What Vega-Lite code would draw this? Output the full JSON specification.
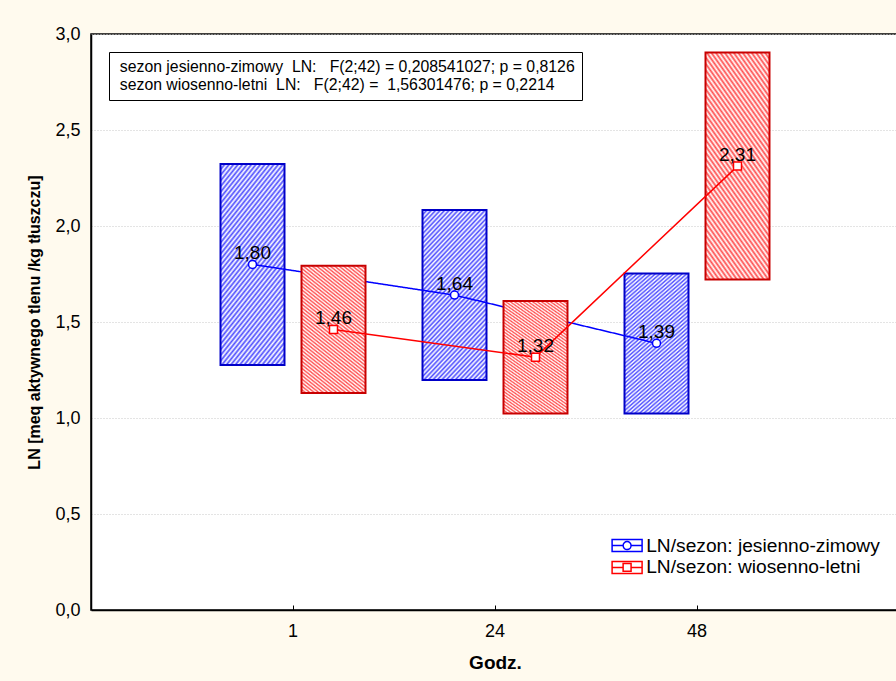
{
  "$schema": "https://vega.github.io/schema/vega-lite/v6.json",
  "width": 808,
  "height": 576,
  "autosize": {"type": "none"},
  "padding": {"left": 91, "top": 34, "right": 0, "bottom": 71},
  "background": "#fffaee",
  "config": {
    "font": "Liberation Sans",
    "view": {"fill": "white", "stroke": "black", "strokeWidth": 1.5},
    "locale": {"number": {"decimal": ",", "thousands": "\u00a0", "grouping": [3], "currency": ["", "\u00a0zł"]}},
    "axis": {"labelColor": "black", "titleColor": "black", "domainColor": "black", "labelFont": "Liberation Sans", "titleFont": "Liberation Sans"},
    "legend": {"labelFont": "Liberation Sans", "labelColor": "black"}
  },
  "data": {
    "values": [
      {"godz": "1", "sezon": "jesienno-zimowy", "mean": 1.80, "lo": 1.276, "hi": 2.323, "stat": "sezon jesienno-zimowy\u00a0 LN:\u00a0\u00a0 F(2;42) = 0,208541027; p = 0,8126"},
      {"godz": "24", "sezon": "jesienno-zimowy", "mean": 1.64, "lo": 1.198, "hi": 2.083, "stat": "sezon jesienno-zimowy\u00a0 LN:\u00a0\u00a0 F(2;42) = 0,208541027; p = 0,8126"},
      {"godz": "48", "sezon": "jesienno-zimowy", "mean": 1.389, "lo": 1.024, "hi": 1.753, "stat": "sezon jesienno-zimowy\u00a0 LN:\u00a0\u00a0 F(2;42) = 0,208541027; p = 0,8126"},
      {"godz": "1", "sezon": "wiosenno-letni", "mean": 1.461, "lo": 1.130, "hi": 1.793, "stat": "sezon wiosenno-letni\u00a0 LN:\u00a0\u00a0 F(2;42) =\u00a0 1,56301476; p = 0,2214"},
      {"godz": "24", "sezon": "wiosenno-letni", "mean": 1.317, "lo": 1.024, "hi": 1.609, "stat": "sezon wiosenno-letni\u00a0 LN:\u00a0\u00a0 F(2;42) =\u00a0 1,56301476; p = 0,2214"},
      {"godz": "48", "sezon": "wiosenno-letni", "mean": 2.312, "lo": 1.722, "hi": 2.903, "stat": "sezon wiosenno-letni\u00a0 LN:\u00a0\u00a0 F(2;42) =\u00a0 1,56301476; p = 0,2214"}
    ]
  },
  "encoding": {
    "x": {
      "field": "godz", "type": "nominal", "sort": null,
      "scale": {"domain": ["1", "24", "48"], "paddingInner": 0, "paddingOuter": 0.5},
      "axis": {"title": "Godz.", "labelAngle": 0, "labelFontSize": 18, "titleFontSize": 19, "titleFontWeight": "bold", "titlePadding": 13, "tickSize": -5, "tickColor": "black", "labelPadding": 17, "domainWidth": 1.5}
    },
    "xOffset": {
      "field": "sezon", "type": "nominal", "sort": null,
      "scale": {"domain": ["jesienno-zimowy", "wiosenno-letni"], "paddingInner": 0.21, "paddingOuter": 0.352}
    }
  },
  "layer": [
    {
      "transform": [{"filter": "datum.sezon === 'jesienno-zimowy'"}],
      "mark": {
        "type": "bar", "stroke": "#0000c8", "strokeWidth": 2,
        "fill": {"gradient": "linear", "x1": 0, "y1": 0, "x2": 0.483, "y2": 1.207, "stops": [
          {"offset": 0, "color": "#4d4dff"}, {"offset": 0.01, "color": "#fff"}, {"offset": 0.02, "color": "#4d4dff"}, {"offset": 0.03, "color": "#fff"}, {"offset": 0.04, "color": "#4d4dff"}, {"offset": 0.05, "color": "#fff"}, {"offset": 0.06, "color": "#4d4dff"}, {"offset": 0.07, "color": "#fff"}, {"offset": 0.08, "color": "#4d4dff"}, {"offset": 0.09, "color": "#fff"},
          {"offset": 0.10, "color": "#4d4dff"}, {"offset": 0.11, "color": "#fff"}, {"offset": 0.12, "color": "#4d4dff"}, {"offset": 0.13, "color": "#fff"}, {"offset": 0.14, "color": "#4d4dff"}, {"offset": 0.15, "color": "#fff"}, {"offset": 0.16, "color": "#4d4dff"}, {"offset": 0.17, "color": "#fff"}, {"offset": 0.18, "color": "#4d4dff"}, {"offset": 0.19, "color": "#fff"},
          {"offset": 0.20, "color": "#4d4dff"}, {"offset": 0.21, "color": "#fff"}, {"offset": 0.22, "color": "#4d4dff"}, {"offset": 0.23, "color": "#fff"}, {"offset": 0.24, "color": "#4d4dff"}, {"offset": 0.25, "color": "#fff"}, {"offset": 0.26, "color": "#4d4dff"}, {"offset": 0.27, "color": "#fff"}, {"offset": 0.28, "color": "#4d4dff"}, {"offset": 0.29, "color": "#fff"},
          {"offset": 0.30, "color": "#4d4dff"}, {"offset": 0.31, "color": "#fff"}, {"offset": 0.32, "color": "#4d4dff"}, {"offset": 0.33, "color": "#fff"}, {"offset": 0.34, "color": "#4d4dff"}, {"offset": 0.35, "color": "#fff"}, {"offset": 0.36, "color": "#4d4dff"}, {"offset": 0.37, "color": "#fff"}, {"offset": 0.38, "color": "#4d4dff"}, {"offset": 0.39, "color": "#fff"},
          {"offset": 0.40, "color": "#4d4dff"}, {"offset": 0.41, "color": "#fff"}, {"offset": 0.42, "color": "#4d4dff"}, {"offset": 0.43, "color": "#fff"}, {"offset": 0.44, "color": "#4d4dff"}, {"offset": 0.45, "color": "#fff"}, {"offset": 0.46, "color": "#4d4dff"}, {"offset": 0.47, "color": "#fff"}, {"offset": 0.48, "color": "#4d4dff"}, {"offset": 0.49, "color": "#fff"},
          {"offset": 0.50, "color": "#4d4dff"}, {"offset": 0.51, "color": "#fff"}, {"offset": 0.52, "color": "#4d4dff"}, {"offset": 0.53, "color": "#fff"}, {"offset": 0.54, "color": "#4d4dff"}, {"offset": 0.55, "color": "#fff"}, {"offset": 0.56, "color": "#4d4dff"}, {"offset": 0.57, "color": "#fff"}, {"offset": 0.58, "color": "#4d4dff"}, {"offset": 0.59, "color": "#fff"},
          {"offset": 0.60, "color": "#4d4dff"}, {"offset": 0.61, "color": "#fff"}, {"offset": 0.62, "color": "#4d4dff"}, {"offset": 0.63, "color": "#fff"}, {"offset": 0.64, "color": "#4d4dff"}, {"offset": 0.65, "color": "#fff"}, {"offset": 0.66, "color": "#4d4dff"}, {"offset": 0.67, "color": "#fff"}, {"offset": 0.68, "color": "#4d4dff"}, {"offset": 0.69, "color": "#fff"},
          {"offset": 0.70, "color": "#4d4dff"}, {"offset": 0.71, "color": "#fff"}, {"offset": 0.72, "color": "#4d4dff"}, {"offset": 0.73, "color": "#fff"}, {"offset": 0.74, "color": "#4d4dff"}, {"offset": 0.75, "color": "#fff"}, {"offset": 0.76, "color": "#4d4dff"}, {"offset": 0.77, "color": "#fff"}, {"offset": 0.78, "color": "#4d4dff"}, {"offset": 0.79, "color": "#fff"},
          {"offset": 0.80, "color": "#4d4dff"}, {"offset": 0.81, "color": "#fff"}, {"offset": 0.82, "color": "#4d4dff"}, {"offset": 0.83, "color": "#fff"}, {"offset": 0.84, "color": "#4d4dff"}, {"offset": 0.85, "color": "#fff"}, {"offset": 0.86, "color": "#4d4dff"}, {"offset": 0.87, "color": "#fff"}, {"offset": 0.88, "color": "#4d4dff"}, {"offset": 0.89, "color": "#fff"},
          {"offset": 0.90, "color": "#4d4dff"}, {"offset": 0.91, "color": "#fff"}, {"offset": 0.92, "color": "#4d4dff"}, {"offset": 0.93, "color": "#fff"}, {"offset": 0.94, "color": "#4d4dff"}, {"offset": 0.95, "color": "#fff"}, {"offset": 0.96, "color": "#4d4dff"}, {"offset": 0.97, "color": "#fff"}, {"offset": 0.98, "color": "#4d4dff"}, {"offset": 0.99, "color": "#fff"},
          {"offset": 1, "color": "#4d4dff"}
        ]}
      },
      "encoding": {
        "y": {
          "field": "lo", "type": "quantitative",
          "scale": {"domain": [0, 3], "nice": false, "zero": true},
          "axis": {"title": "LN [meq aktywnego tlenu /kg tłuszczu]", "titleFontSize": 16, "titleFontWeight": "bold", "titlePadding": 12, "labelFontSize": 18, "labelPadding": 11, "values": [0, 0.5, 1, 1.5, 2, 2.5, 3], "format": ".1f", "ticks": false, "grid": true, "gridDash": [1, 2], "gridColor": "#c8c8c8", "domainWidth": 1.5}
        },
        "y2": {"field": "hi"}
      }
    },
    {
      "transform": [{"filter": "datum.sezon === 'jesienno-zimowy'"}],
      "mark": {"type": "line", "stroke": "#0000ff", "strokeWidth": 1.5},
      "encoding": {
        "y": {"field": "mean", "type": "quantitative", "scale": {"domain": [0, 3], "nice": false}},
        "strokeDash": {
          "field": "stat", "type": "nominal", "sort": null,
          "scale": {"domain": ["sezon jesienno-zimowy\u00a0 LN:\u00a0\u00a0 F(2;42) = 0,208541027; p = 0,8126", "sezon wiosenno-letni\u00a0 LN:\u00a0\u00a0 F(2;42) =\u00a0 1,56301476; p = 0,2214"], "range": [[1, 0], [1, 0]]},
          "legend": {"title": null, "orient": "top-left", "offset": 18, "padding": 7, "strokeColor": "black", "fillColor": "white", "symbolSize": 0, "symbolOpacity": 0, "symbolStrokeWidth": 0, "labelOffset": -12, "labelFontSize": 15.8, "labelLimit": 800, "rowPadding": 1,
            "encode": {"legend": {"update": {"strokeWidth": {"value": 1.5}}}}}
        }
      }
    },
    {
      "transform": [{"filter": "datum.sezon === 'jesienno-zimowy'"}],
      "mark": {"type": "point", "shape": "circle", "filled": true, "fill": "white", "stroke": "#0000ff", "strokeWidth": 1.5, "size": 64, "opacity": 1},
      "encoding": {
        "y": {"field": "mean", "type": "quantitative", "scale": {"domain": [0, 3], "nice": false}}
      }
    },
    {
      "transform": [{"filter": "datum.sezon === 'wiosenno-letni'"}],
      "mark": {
        "type": "bar", "stroke": "#c80000", "strokeWidth": 2,
        "fill": {"gradient": "linear", "x1": 0, "y1": 1, "x2": 0.483, "y2": -0.207, "stops": [
          {"offset": 0, "color": "#ff4d4d"}, {"offset": 0.01, "color": "#fff"}, {"offset": 0.02, "color": "#ff4d4d"}, {"offset": 0.03, "color": "#fff"}, {"offset": 0.04, "color": "#ff4d4d"}, {"offset": 0.05, "color": "#fff"}, {"offset": 0.06, "color": "#ff4d4d"}, {"offset": 0.07, "color": "#fff"}, {"offset": 0.08, "color": "#ff4d4d"}, {"offset": 0.09, "color": "#fff"},
          {"offset": 0.10, "color": "#ff4d4d"}, {"offset": 0.11, "color": "#fff"}, {"offset": 0.12, "color": "#ff4d4d"}, {"offset": 0.13, "color": "#fff"}, {"offset": 0.14, "color": "#ff4d4d"}, {"offset": 0.15, "color": "#fff"}, {"offset": 0.16, "color": "#ff4d4d"}, {"offset": 0.17, "color": "#fff"}, {"offset": 0.18, "color": "#ff4d4d"}, {"offset": 0.19, "color": "#fff"},
          {"offset": 0.20, "color": "#ff4d4d"}, {"offset": 0.21, "color": "#fff"}, {"offset": 0.22, "color": "#ff4d4d"}, {"offset": 0.23, "color": "#fff"}, {"offset": 0.24, "color": "#ff4d4d"}, {"offset": 0.25, "color": "#fff"}, {"offset": 0.26, "color": "#ff4d4d"}, {"offset": 0.27, "color": "#fff"}, {"offset": 0.28, "color": "#ff4d4d"}, {"offset": 0.29, "color": "#fff"},
          {"offset": 0.30, "color": "#ff4d4d"}, {"offset": 0.31, "color": "#fff"}, {"offset": 0.32, "color": "#ff4d4d"}, {"offset": 0.33, "color": "#fff"}, {"offset": 0.34, "color": "#ff4d4d"}, {"offset": 0.35, "color": "#fff"}, {"offset": 0.36, "color": "#ff4d4d"}, {"offset": 0.37, "color": "#fff"}, {"offset": 0.38, "color": "#ff4d4d"}, {"offset": 0.39, "color": "#fff"},
          {"offset": 0.40, "color": "#ff4d4d"}, {"offset": 0.41, "color": "#fff"}, {"offset": 0.42, "color": "#ff4d4d"}, {"offset": 0.43, "color": "#fff"}, {"offset": 0.44, "color": "#ff4d4d"}, {"offset": 0.45, "color": "#fff"}, {"offset": 0.46, "color": "#ff4d4d"}, {"offset": 0.47, "color": "#fff"}, {"offset": 0.48, "color": "#ff4d4d"}, {"offset": 0.49, "color": "#fff"},
          {"offset": 0.50, "color": "#ff4d4d"}, {"offset": 0.51, "color": "#fff"}, {"offset": 0.52, "color": "#ff4d4d"}, {"offset": 0.53, "color": "#fff"}, {"offset": 0.54, "color": "#ff4d4d"}, {"offset": 0.55, "color": "#fff"}, {"offset": 0.56, "color": "#ff4d4d"}, {"offset": 0.57, "color": "#fff"}, {"offset": 0.58, "color": "#ff4d4d"}, {"offset": 0.59, "color": "#fff"},
          {"offset": 0.60, "color": "#ff4d4d"}, {"offset": 0.61, "color": "#fff"}, {"offset": 0.62, "color": "#ff4d4d"}, {"offset": 0.63, "color": "#fff"}, {"offset": 0.64, "color": "#ff4d4d"}, {"offset": 0.65, "color": "#fff"}, {"offset": 0.66, "color": "#ff4d4d"}, {"offset": 0.67, "color": "#fff"}, {"offset": 0.68, "color": "#ff4d4d"}, {"offset": 0.69, "color": "#fff"},
          {"offset": 0.70, "color": "#ff4d4d"}, {"offset": 0.71, "color": "#fff"}, {"offset": 0.72, "color": "#ff4d4d"}, {"offset": 0.73, "color": "#fff"}, {"offset": 0.74, "color": "#ff4d4d"}, {"offset": 0.75, "color": "#fff"}, {"offset": 0.76, "color": "#ff4d4d"}, {"offset": 0.77, "color": "#fff"}, {"offset": 0.78, "color": "#ff4d4d"}, {"offset": 0.79, "color": "#fff"},
          {"offset": 0.80, "color": "#ff4d4d"}, {"offset": 0.81, "color": "#fff"}, {"offset": 0.82, "color": "#ff4d4d"}, {"offset": 0.83, "color": "#fff"}, {"offset": 0.84, "color": "#ff4d4d"}, {"offset": 0.85, "color": "#fff"}, {"offset": 0.86, "color": "#ff4d4d"}, {"offset": 0.87, "color": "#fff"}, {"offset": 0.88, "color": "#ff4d4d"}, {"offset": 0.89, "color": "#fff"},
          {"offset": 0.90, "color": "#ff4d4d"}, {"offset": 0.91, "color": "#fff"}, {"offset": 0.92, "color": "#ff4d4d"}, {"offset": 0.93, "color": "#fff"}, {"offset": 0.94, "color": "#ff4d4d"}, {"offset": 0.95, "color": "#fff"}, {"offset": 0.96, "color": "#ff4d4d"}, {"offset": 0.97, "color": "#fff"}, {"offset": 0.98, "color": "#ff4d4d"}, {"offset": 0.99, "color": "#fff"},
          {"offset": 1, "color": "#ff4d4d"}
        ]}
      },
      "encoding": {
        "y": {"field": "lo", "type": "quantitative", "scale": {"domain": [0, 3], "nice": false}},
        "y2": {"field": "hi"}
      }
    },
    {
      "transform": [{"filter": "datum.sezon === 'wiosenno-letni'"}],
      "mark": {"type": "line", "stroke": "#ff0000", "strokeWidth": 1.5},
      "encoding": {
        "y": {"field": "mean", "type": "quantitative", "scale": {"domain": [0, 3], "nice": false}}
      }
    },
    {
      "transform": [{"filter": "datum.sezon === 'wiosenno-letni'"}],
      "mark": {"type": "point", "shape": "square", "filled": true, "fill": "white", "stroke": "#ff0000", "strokeWidth": 1.5, "size": 64, "opacity": 1},
      "encoding": {
        "y": {"field": "mean", "type": "quantitative", "scale": {"domain": [0, 3], "nice": false}}
      }
    },
    {
      "mark": {"type": "point", "filled": true, "opacity": 0, "strokeWidth": 1.5, "size": 225},
      "encoding": {
        "y": {"field": "mean", "type": "quantitative", "scale": {"domain": [0, 3], "nice": false}},
        "fill": {
          "field": "sezon", "type": "nominal", "sort": null,
          "scale": {"domain": ["jesienno-zimowy", "wiosenno-letni"], "range": ["#b4b4ff", "#ffb4b4"]},
          "legend": {"title": null, "orient": "none", "legendX": 519, "legendY": 502, "padding": 0, "symbolSize": 225, "symbolStrokeWidth": 1.5, "symbolOpacity": 1, "labelOffset": 17, "labelFontSize": 19.2, "labelLimit": 400, "rowPadding": 1.8, "labelExpr": "'LN/sezon: ' + datum.label"}
        },
        "stroke": {
          "field": "sezon", "type": "nominal", "sort": null,
          "scale": {"domain": ["jesienno-zimowy", "wiosenno-letni"], "range": ["#0000ff", "#ff0000"]}
        },
        "shape": {
          "field": "sezon", "type": "nominal", "sort": null,
          "scale": {"domain": ["jesienno-zimowy", "wiosenno-letni"], "range": [
            "M-1,-0.8H3V0.8H-1Z M0.47,0A0.53,0.53 0 1,0 1.53,0A0.53,0.53 0 1,0 0.47,0Z M-1,0H0.47 M1.53,0H3",
            "M-1,-0.8H3V0.8H-1Z M0.47,-0.53V0.53H1.53V-0.53Z M-1,0H0.47 M1.53,0H3"
          ]}
        }
      }
    },
    {
      "mark": {"type": "text", "fontSize": 19, "baseline": "middle", "dy": -11, "color": "black"},
      "encoding": {
        "y": {"field": "mean", "type": "quantitative", "scale": {"domain": [0, 3], "nice": false}},
        "text": {"field": "mean", "type": "quantitative", "format": ".2f"}
      }
    }
  ]
}
